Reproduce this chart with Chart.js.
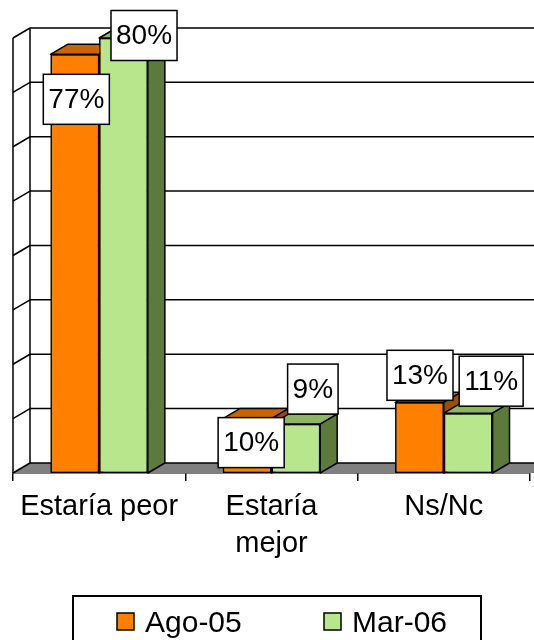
<!DOCTYPE html>
<html>
<head>
<meta charset="utf-8">
<script src="https://cdn.jsdelivr.net/npm/chart.js@4/dist/chart.umd.min.js"></script>
<style>
html,body{margin:0;padding:0;background:#fff;}
canvas{display:block;}
</style>
</head>
<body>
<canvas id="c" width="534" height="640"></canvas>
<script>
// ---- data ----
const categories = ['Estaría peor', ['Estaría', 'mejor'], 'Ns/Nc'];
const seriesNames = ['Ago-05', 'Mar-06'];
const ago05 = [77, 10, 13];
const mar06 = [80, 9, 11];
const yTicks = [0, 10, 20, 30, 40, 50, 60, 70, 80];

// ---- styles ----
const FONT = '"Liberation Sans", Arial, sans-serif';
const DX = 17, DY = 10;            // 3D depth offset
const faceColors = [
  {front: '#FF8000', top: '#C96400', side: '#9C4E00'},
  {front: '#B7E68C', top: '#8DB562', side: '#5C7A3C'}
];
// label offsets relative to bar (centre x, top y), per dataset per category
const labelOffsets = [
  [[1.5, 45], [4, 24], [0.5, -27]],
  [[20.5, -2.5], [17, -35], [23, -32]]
];

const threeD = {
  id: 'threeD',
  beforeDatasetsDraw(chart) {
    const ctx = chart.ctx;
    const y = chart.scales.y;
    const area = chart.chartArea;
    const L = area.left, R = chart.width + 20;
    const base = y.getPixelForValue(0);
    ctx.save();
    // floor
    ctx.fillStyle = '#808080';
    ctx.beginPath();
    ctx.moveTo(L, base);
    ctx.lineTo(L + DX, base - DY);
    ctx.lineTo(R + DX, base - DY);
    ctx.lineTo(R, base);
    ctx.closePath();
    ctx.fill();
    ctx.strokeStyle = '#000';
    ctx.lineWidth = 1.5;
    // back wall gridlines + left wall diagonals
    yTicks.forEach(v => {
      const py = y.getPixelForValue(v);
      ctx.beginPath();
      ctx.moveTo(L + DX, py - DY);
      ctx.lineTo(R, py - DY);
      ctx.stroke();
      ctx.beginPath();
      ctx.moveTo(L, py);
      ctx.lineTo(L + DX, py - DY);
      ctx.stroke();
    });
    const top = y.getPixelForValue(yTicks[yTicks.length - 1]);
    ctx.beginPath();
    ctx.moveTo(L, top); ctx.lineTo(L, base);
    ctx.moveTo(L + DX, top - DY); ctx.lineTo(L + DX, base - DY);
    ctx.stroke();
    ctx.restore();
  },
  afterDatasetsDraw(chart) {
    const ctx = chart.ctx;
    const n = chart.data.labels.length;
    ctx.save();
    for (let i = 0; i < n; i++) {
      chart.data.datasets.forEach((ds, d) => {
        const el = chart.getDatasetMeta(d).data[i];
        el.draw(ctx);
        const {x, y, base, width} = el.getProps(['x', 'y', 'base', 'width'], true);
        const x0 = x - width / 2, x1 = x + width / 2;
        const c = faceColors[d];
        ctx.lineWidth = 1.5;
        ctx.strokeStyle = '#000';
        ctx.lineJoin = 'round';
        // top face
        ctx.fillStyle = c.top;
        ctx.beginPath();
        ctx.moveTo(x0, y); ctx.lineTo(x1, y); ctx.lineTo(x1 + DX, y - DY); ctx.lineTo(x0 + DX, y - DY);
        ctx.closePath(); ctx.fill(); ctx.stroke();
        // side face
        ctx.fillStyle = c.side;
        ctx.beginPath();
        ctx.moveTo(x1, y); ctx.lineTo(x1 + DX, y - DY); ctx.lineTo(x1 + DX, base - DY); ctx.lineTo(x1, base);
        ctx.closePath(); ctx.fill(); ctx.stroke();
      });
    }
    ctx.restore();
  },
  afterDraw(chart) {
    const ctx = chart.ctx;
    ctx.save();
    // data labels
    ctx.font = '28px ' + FONT;
    ctx.textAlign = 'center';
    ctx.textBaseline = 'middle';
    chart.data.datasets.forEach((ds, d) => {
      chart.getDatasetMeta(d).data.forEach((el, i) => {
        const txt = ds.data[i] + '%';
        const off = labelOffsets[d][i];
        const cx = el.x + off[0], cy = el.y + off[1];
        const w = ctx.measureText(txt).width + 10, h = 50;
        ctx.fillStyle = '#fff';
        ctx.fillRect(cx - w / 2, cy - h / 2, w, h);
        ctx.strokeStyle = '#000';
        ctx.lineWidth = 1.5;
        ctx.strokeRect(cx - w / 2, cy - h / 2, w, h);
        ctx.fillStyle = '#000';
        ctx.fillText(txt, cx, cy + 1);
      });
    });
    // legend
    ctx.strokeStyle = '#000';
    ctx.lineWidth = 2;
    ctx.strokeRect(73, 596, 408, 80);
    const items = [{bx: 117, tx: 145}, {bx: 324, tx: 352}];
    ctx.font = '30px ' + FONT;
    ctx.textAlign = 'left';
    ctx.textBaseline = 'alphabetic';
    chart.data.datasets.forEach((ds, d) => {
      const it = items[d];
      ctx.fillStyle = ds.backgroundColor;
      ctx.fillRect(it.bx, 613, 17, 17);
      ctx.lineWidth = 1.5;
      ctx.strokeRect(it.bx, 613, 17, 17);
      ctx.fillStyle = '#000';
      ctx.fillText(ds.label, it.tx, 632);
    });
    ctx.restore();
  }
};

new Chart(document.getElementById('c'), {
  type: 'bar',
  data: {
    labels: categories,
    datasets: [
      {label: seriesNames[0], data: ago05, backgroundColor: faceColors[0].front, borderColor: '#000', borderWidth: 1.5, borderSkipped: false},
      {label: seriesNames[1], data: mar06, backgroundColor: faceColors[1].front, borderColor: '#000', borderWidth: 1.5, borderSkipped: false}
    ]
  },
  options: {
    responsive: false,
    devicePixelRatio: 1,
    animation: false,
    categoryPercentage: 0.565,
    barPercentage: 1.0,
    layout: {padding: {top: 38, left: 13, right: 4, bottom: 69}},
    plugins: {legend: {display: false}, tooltip: {enabled: false}},
    scales: {
      y: {display: false, min: 0, max: 80},
      x: {
        grid: {display: true, drawOnChartArea: false, drawTicks: true, tickLength: 8, color: '#000', lineWidth: 1.5, offset: true},
        border: {display: true, color: '#000', width: 1.5},
        ticks: {font: {family: FONT, size: 29, lineHeight: 1.276}, color: '#000', padding: 8, maxRotation: 0, autoSkip: false}
      }
    }
  },
  plugins: [threeD]
});
</script>
</body>
</html>
